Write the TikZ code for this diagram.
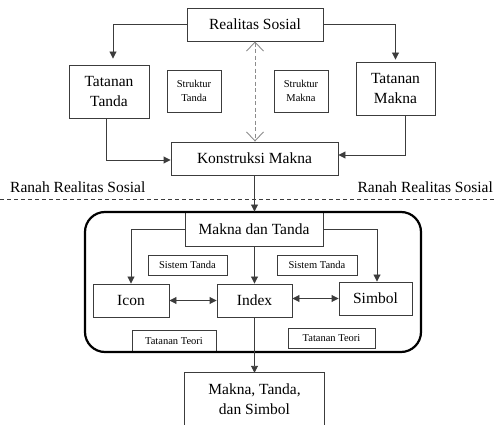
\documentclass[tikz,border=0pt]{standalone}
\usepackage{fontspec}
\setmainfont{Liberation Serif}
\usetikzlibrary{arrows.meta}
\definecolor{lineg}{RGB}{60,60,60}
\definecolor{dashg}{RGB}{140,140,140}
\begin{document}
\begin{tikzpicture}[x=1pt,y=-1pt,
  box/.style={draw=lineg, line width=0.9pt, fill=white, inner sep=0pt, align=center,
    font=\fontsize{15.5}{19.5}\selectfont},
  sbox/.style={box, font=\fontsize{10.5}{14}\selectfont},
  lbl/.style={inner sep=0pt, font=\fontsize{15.5}{19.5}\selectfont},
  arr/.style={draw=lineg, line width=0.9pt, -{Triangle[length=7pt,width=7pt]}},
  darr/.style={draw=lineg, line width=0.9pt, {Triangle[length=7pt,width=7pt]}-{Triangle[length=7pt,width=7pt]}},
  dashar/.style={draw=dashg, line width=0.9pt, dash pattern=on 4pt off 2.5pt,
    {Straight Barb[length=9pt,width=17pt,line width=0.9pt]}-{Straight Barb[length=9pt,width=17pt,line width=0.9pt]}}
]
\useasboundingbox (0,0) rectangle (496,425);
\clip (0,0) rectangle (496,425);

% upper part
\node[box, minimum width=136, minimum height=33] (real) at (255,24.5) {Realitas Sosial};
\node[box, minimum width=80, minimum height=53] (tt) at (109,91.5) {Tatanan\\Tanda};
\node[sbox, minimum width=54, minimum height=42] (st) at (194,91) {Struktur\\Tanda};
\node[sbox, minimum width=54, minimum height=42] (sm) at (301,91) {Struktur\\Makna};
\node[box, minimum width=79, minimum height=53] (tm) at (395.5,88.5) {Tatanan\\Makna};
\node[box, minimum width=167, minimum height=33] (ks) at (254.5,158.5) {Konstruksi Makna};

\draw[arr, shorten >=6pt] (real.west) -| ([xshift=4pt]tt.north);
\draw[arr, shorten >=2pt] (real.east) -| (tm.north);
\draw[arr] ([xshift=-3pt]tt.south) |- ([yshift=-1.5pt]ks.west);
\draw[arr] ([xshift=9.5pt]tm.south) |- ([yshift=3.5pt]ks.east);
\draw[dashar] (real.south) -- (real.south |- ks.north);

% separator
\node[lbl, anchor=west] (rl) at (10,187) {Ranah Realitas Sosial};
\node[lbl, anchor=east] (rr) at (493,187) {Ranah Realitas Sosial};
\coordinate (sepL) at (0,199);
\coordinate (sepR) at (496,199);
\draw[lineg, line width=0.8pt, dash pattern=on 4pt off 3pt] (sepL) -- (sepR);

% lower part
\node[box, minimum width=138, minimum height=34] (mdt) at (254,229) {Makna dan Tanda};
\node[sbox, minimum width=79, minimum height=20] (stl) at (187.5,265) {Sistem Tanda};
\node[sbox, minimum width=80, minimum height=20] (str) at (317,265) {Sistem Tanda};
\node[box, minimum width=76, minimum height=33] (icon) at (131,300.5) {Icon};
\node[box, minimum width=75, minimum height=33] (index) at (254.5,300.5) {Index};
\node[box, minimum width=73, minimum height=33] (simbol) at (375.5,298.5) {Simbol};
\node[sbox, minimum width=84, minimum height=22] (ttl) at (174,341) {Tatanan Teori};
\node[sbox, minimum width=87, minimum height=20] (ttr) at (331.5,338) {Tatanan Teori};

\draw[black, line width=2.2pt, rounded corners=20pt] (85,212) rectangle (421,352);

\draw[arr] (ks.south) -- (mdt.north -| ks.south);
\draw[arr] (mdt.west) -| (icon.north);
\draw[arr] (mdt.east) -| ([xshift=1.5pt]simbol.north);
\draw[arr] (mdt.south -| index.north) -- (index.north);
\draw[darr] (icon.east) -- (index.west |- icon.east);
\draw[darr] (index.east |- simbol.west) -- (simbol.west);

% bottom
\node[inner sep=0pt, align=center, minimum width=139, minimum height=52,
  font=\fontsize{15.5}{20}\selectfont] (fin) at (254.5,399) {Makna, Tanda,\\dan Simbol};
\draw[lineg, line width=0.9pt] (fin.south west) -- (fin.north west) -- (fin.north east) -- (fin.south east);
\draw[arr] (index.south) -- (fin.north -| index.south);
\end{tikzpicture}
\end{document}
